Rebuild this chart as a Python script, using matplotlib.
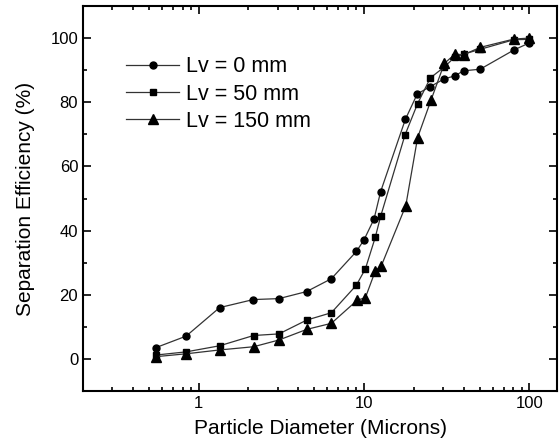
import matplotlib.pyplot as plt
from matplotlib.ticker import MultipleLocator, LogLocator, NullFormatter

plt.rcParams['font.family'] = ['Liberation Sans', 'DejaVu Sans']

# Lv = 0 mm
x0 = [0.55, 0.84, 1.34, 2.14, 3.06, 4.5, 6.35, 9.0, 10.0, 11.5, 12.6,
      17.8, 21.0, 25.2, 30.6, 35.3, 40.0, 50.4, 80.7, 100]
y0 = [3.5, 7.1, 16.0, 18.5, 18.8, 21.0, 25.0, 33.5, 37.1, 43.6, 52.1,
      74.7, 82.6, 84.9, 87.3, 88.2, 89.8, 90.3, 96.3, 98.5]

# Lv = 50 mm
x50 = [0.55, 0.84, 1.34, 2.15, 3.06, 4.5, 6.35, 9.0, 10.2, 11.7, 12.6,
       17.7, 21.1, 25.2, 30.6, 35.3, 40.0, 50.4, 80.7, 100]
y50 = [1.2, 2.2, 4.1, 7.3, 7.8, 12.1, 14.4, 23.0, 28.1, 37.9, 44.4,
       69.8, 79.6, 87.6, 91.0, 94.0, 95.0, 96.5, 99.5, 99.6]

# Lv = 150 mm
x150 = [0.55, 0.84, 1.34, 2.15, 3.06, 4.5, 6.35, 9.1, 10.2, 11.7, 12.7,
        17.9, 21.1, 25.4, 30.6, 35.5, 40.0, 50.4, 80.7, 100]
y150 = [0.7, 1.6, 2.8, 3.8, 5.9, 9.2, 11.1, 18.3, 19.1, 27.4, 28.9,
        47.8, 69.0, 80.6, 92.1, 95.0, 94.8, 97.1, 99.7, 100.0]

fig = plt.figure(figsize=(5.59, 4.48), dpi=100)
ax = fig.add_axes([0.1485, 0.1272, 0.848, 0.8594])

line_kw = dict(color='#333333', linewidth=0.9, markerfacecolor='black',
               markeredgecolor='black')
ax.plot(x0, y0, marker='o', markersize=5, label='Lv = 0 mm', **line_kw)
ax.plot(x50, y50, marker='s', markersize=5, label='Lv = 50 mm', **line_kw)
ax.plot(x150, y150, marker='^', markersize=6.5, label='Lv = 150 mm', **line_kw)

ax.set_xscale('log')
ax.set_xlim(0.2, 147)
ax.set_ylim(-10, 110)

ax.xaxis.set_minor_locator(LogLocator(base=10, subs=range(2, 10)))
ax.xaxis.set_minor_formatter(NullFormatter())
ax.set_xticks([1, 10, 100])
ax.set_xticklabels(['1', '10', '100'])
ax.yaxis.set_major_locator(MultipleLocator(20))
ax.yaxis.set_minor_locator(MultipleLocator(10))

ax.tick_params(which='both', direction='in', top=True, right=True,
               labelsize=12, width=1.2)
ax.tick_params(which='major', length=6)
ax.tick_params(which='minor', length=3)
for s in ax.spines.values():
    s.set_linewidth(1.5)

ax.set_xlabel('Particle Diameter (Microns)', fontsize=15, labelpad=6)
ax.set_ylabel('Separation Efficiency (%)', fontsize=15, labelpad=11)

ax.legend(loc='upper left', bbox_to_anchor=(0.09, 0.87), frameon=False,
          fontsize=15.5, handlelength=2.5, handletextpad=0.3, labelspacing=0.3,
          borderaxespad=0, borderpad=0)

fig.savefig('out.png', dpi=100)
